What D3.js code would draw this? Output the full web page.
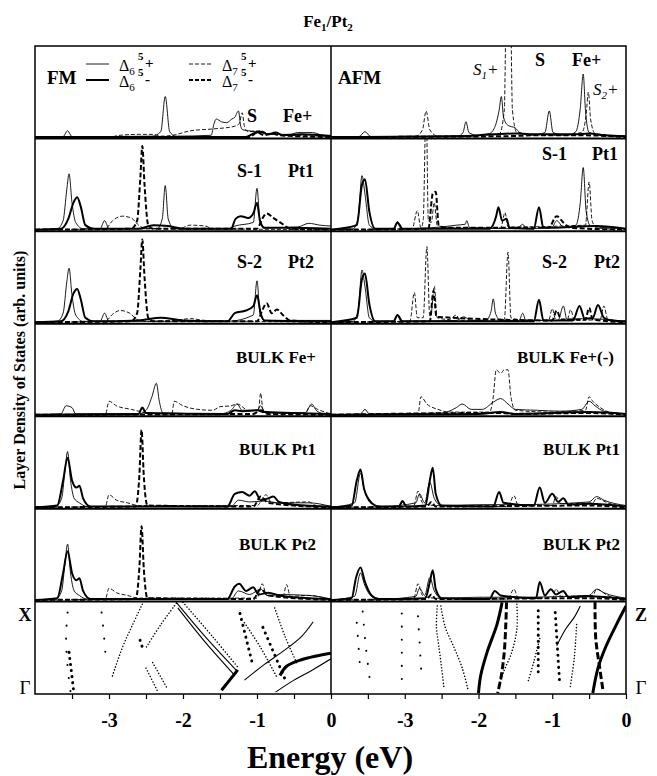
<!DOCTYPE html>
<html>
<head>
<meta charset="utf-8">
<script src="https://cdn.jsdelivr.net/npm/d3@7"></script>
<style>
  body { margin: 0; background: #fff; }
  text { font-family: "Liberation Serif", "Times New Roman", serif; font-weight: bold; fill: #000; }
</style>
</head>
<body>
<svg id="chart" width="657" height="776"></svg>
<script>
// energy axis
const energyDomain = [-4, 0];
const tickValues = [-3.5, -3, -2.5, -2, -1.5, -1, -0.5, 0];
const labelTicks = [-3, -2, -1, 0];

// DOS curves, [energy (eV), density (arb.)]
// 6p = Delta6 +, 6m = Delta6 -, 7p = Delta7 +, 7m = Delta7 -
const fmFeS_6p = [[-4,0],[-3.62,0.005],[-3.56,0.07],[-3.5,0.005],[-2.42,0.01],[-2.3,0.06],[-2.24,0.45],[-2.18,0.06],[-2.1,0.01],[-1.62,0.02],[-1.58,0.15],[-1.55,0.2],[-1.48,0.17],[-1.41,0.16],[-1.34,0.2],[-1.3,0.22],[-1.25,0.29],[-1.22,0.12],[-1.19,0.08],[-1.0,0.06],[-0.8,0.03],[-0.55,0.03],[-0.45,0.05],[-0.25,0.05],[-0.1,0.02],[0,0.02]];
const fmFeS_6m = [[-4,0],[-1.15,0],[-1.05,0.04],[-0.95,0.06],[-0.85,0.03],[-0.75,0.05],[-0.65,0.02],[-0.4,0.03],[0,0.01]];
const fmFeS_7p = [[-4,0],[-3.0,0],[-2.85,0.02],[-2.6,0.03],[-2.4,0.03],[-2.3,0.01],[-2.14,0.02],[-1.9,0.07],[-1.6,0.09],[-1.3,0.12],[-1.24,0.15],[-1.2,0.27],[-1.17,0.12],[-1.12,0.06],[-0.95,0.07],[-0.85,0.04],[-0.6,0.02],[0,0.01]];
const fmFeS_7m = [[-4,0],[-1.1,0],[-1.0,0.05],[-0.9,0.02],[-0.8,0.04],[-0.7,0.02],[0,0]];

const afmFeS_6p = [[-4,0],[-3.62,0.005],[-3.54,0.06],[-3.46,0.005],[-2.28,0.01],[-2.21,0.05],[-2.17,0.17],[-2.13,0.05],[-2.02,0.02],[-1.85,0.04],[-1.77,0.13],[-1.72,0.3],[-1.69,0.45],[-1.66,0.22],[-1.6,0.13],[-1.5,0.1],[-1.44,0.05],[-1.3,0.02],[-1.1,0.05],[-1.04,0.29],[-0.99,0.05],[-0.8,0.02],[-0.68,0.06],[-0.62,0.32],[-0.58,0.7],[-0.55,0.3],[-0.5,0.05],[-0.3,0.02],[0,0.01]];
const afmFeS_6m = [[-4,0],[-2.3,0.01],[-1.8,0.03],[-1.5,0.04],[-1.2,0.03],[-0.7,0.03],[-0.5,0.04],[-0.3,0.02],[0,0.01]];
const afmFeS_7p = [[-4,0],[-2.85,0.01],[-2.76,0.08],[-2.71,0.29],[-2.66,0.08],[-2.55,0.01],[-1.72,0.03],[-1.65,0.3],[-1.62,1.6],[-1.57,1.6],[-1.54,0.3],[-1.48,0.05],[-1.0,0.02],[-0.6,0.05],[-0.54,0.25],[-0.51,0.5],[-0.48,0.2],[-0.42,0.04],[0,0.01]];
const afmFeS_7m = [[-4,0],[-1.6,0.01],[-1.2,0.02],[-0.6,0.02],[0,0]];

const fmPt1S_6p = [[-4,0],[-3.7,0.01],[-3.62,0.1],[-3.57,0.45],[-3.54,0.62],[-3.5,0.3],[-3.45,0.08],[-3.35,0.01],[-3.12,0.01],[-3.06,0.1],[-3.0,0.01],[-2.35,0.01],[-2.28,0.12],[-2.24,0.49],[-2.2,0.12],[-2.12,0.01],[-1.4,0.01],[-1.3,0.04],[-1.05,0.08],[-1.0,0.46],[-0.96,0.1],[-0.9,0.02],[-0.45,0.03],[-0.3,0.07],[-0.15,0.05],[0,0.04]];
const fmPt1S_6m = [[-4,0],[-3.65,0.01],[-3.55,0.12],[-3.48,0.3],[-3.43,0.36],[-3.38,0.25],[-3.32,0.05],[-3.2,0.01],[-2.6,0.01],[-2.4,0.05],[-2.2,0.04],[-2.0,0.01],[-1.35,0.01],[-1.29,0.12],[-1.22,0.15],[-1.12,0.13],[-1.05,0.18],[-1.0,0.3],[-0.96,0.1],[-0.9,0.02],[-0.6,0.02],[0,0.01]];
const fmPt1S_7p = [[-4,0],[-3.05,0.01],[-2.95,0.1],[-2.82,0.15],[-2.7,0.13],[-2.6,0.05],[-2.5,0.01],[-2.05,0.01],[-1.9,0.05],[-1.7,0.04],[-1.6,0.01],[0,0]];
const fmPt1S_7m = [[-4,0],[-2.7,0.01],[-2.62,0.1],[-2.575,0.6],[-2.55,0.93],[-2.52,0.5],[-2.47,0.05],[-2.4,0.01],[-1.0,0.01],[-0.93,0.12],[-0.87,0.18],[-0.78,0.13],[-0.65,0.06],[-0.55,0.01],[0,0]];

const afmPt1S_6p = [[-4,0],[-3.7,0.01],[-3.63,0.15],[-3.58,0.6],[-3.54,0.4],[-3.48,0.05],[-3.4,0.01],[-3.15,0.01],[-3.1,0.09],[-3.05,0.01],[-2.5,0.03],[-2.3,0.05],[-2.18,0.06],[-2.16,0.1],[-2.12,0.02],[-1.48,0.01],[-1.4,0.06],[-1.35,0.01],[-1.0,0.03],[-0.94,0.1],[-0.85,0.03],[-0.68,0.05],[-0.62,0.3],[-0.58,0.69],[-0.54,0.2],[-0.48,0.04],[0,0.01]];
const afmPt1S_6m = [[-4,0],[-3.65,0.05],[-3.58,0.5],[-3.54,0.56],[-3.48,0.2],[-3.4,0.01],[-3.15,0.01],[-3.1,0.08],[-3.03,0.01],[-1.85,0.01],[-1.76,0.15],[-1.73,0.25],[-1.68,0.1],[-1.62,0.12],[-1.58,0.02],[-1.25,0.01],[-1.18,0.25],[-1.12,0.02],[-0.4,0.04],[0,0.01]];
const afmPt1S_7p = [[-4,0],[-2.9,0.01],[-2.83,0.21],[-2.78,0.02],[-2.75,0.1],[-2.71,1.4],[-2.68,0.1],[-2.64,0.08],[-2.6,0.3],[-2.56,0.05],[-2.4,0.02],[-1.7,0.02],[-1.64,0.19],[-1.6,0.03],[-0.55,0.05],[-0.5,0.53],[-0.46,0.1],[-0.4,0.02],[0,0]];
const afmPt1S_7m = [[-4,0],[-2.68,0.01],[-2.62,0.4],[-2.58,0.42],[-2.54,0.05],[-2.45,0.02],[-1.05,0.02],[-0.94,0.15],[-0.85,0.08],[-0.75,0.02],[0,0]];

const fmPt2S_6p = [[-4,0],[-3.7,0.01],[-3.62,0.1],[-3.57,0.45],[-3.54,0.6],[-3.5,0.3],[-3.45,0.08],[-3.35,0.01],[-3.12,0.01],[-3.06,0.1],[-3.0,0.01],[-1.4,0.01],[-1.05,0.08],[-1.0,0.46],[-0.96,0.1],[-0.9,0.02],[-0.4,0.02],[0,0.02]];
const fmPt2S_6m = [[-4,0],[-3.65,0.01],[-3.55,0.12],[-3.48,0.32],[-3.43,0.37],[-3.38,0.25],[-3.32,0.05],[-3.2,0.01],[-2.6,0.02],[-2.3,0.05],[-2.0,0.02],[-1.4,0.01],[-1.3,0.1],[-1.15,0.13],[-1.05,0.18],[-1.0,0.3],[-0.95,0.1],[-0.9,0.02],[0,0.01]];
const fmPt2S_7p = [[-4,0],[-3.05,0.01],[-2.95,0.09],[-2.85,0.13],[-2.72,0.1],[-2.62,0.03],[-2.5,0.01],[-2.1,0.02],[-1.9,0.04],[-1.7,0.02],[0,0]];
const fmPt2S_7m = [[-4,0],[-2.7,0.01],[-2.62,0.1],[-2.575,0.6],[-2.55,0.92],[-2.52,0.5],[-2.47,0.05],[-2.4,0.01],[-1.0,0.01],[-0.93,0.13],[-0.87,0.21],[-0.8,0.1],[-0.73,0.14],[-0.65,0.08],[-0.55,0.02],[0,0]];

const afmPt2S_6p = [[-4,0],[-3.7,0.01],[-3.63,0.15],[-3.58,0.58],[-3.54,0.4],[-3.48,0.05],[-3.4,0.01],[-3.15,0.01],[-3.1,0.08],[-3.05,0.01],[-2.3,0.02],[-2.2,0.06],[-2.1,0.02],[-1.9,0.02],[-1.83,0.12],[-1.8,0.26],[-1.77,0.1],[-1.7,0.02],[-1.45,0.02],[-1.4,0.1],[-1.36,0.02],[-0.92,0.02],[-0.85,0.18],[-0.8,0.03],[-0.55,0.04],[0,0.01]];
const afmPt2S_6m = [[-4,0],[-3.65,0.05],[-3.58,0.48],[-3.54,0.54],[-3.48,0.2],[-3.4,0.01],[-3.15,0.01],[-3.1,0.08],[-3.03,0.01],[-1.25,0.01],[-1.18,0.25],[-1.12,0.02],[-0.72,0.02],[-0.63,0.18],[-0.56,0.04],[-0.45,0.05],[-0.38,0.19],[-0.3,0.05],[-0.2,0.02],[0,0.01]];
const afmPt2S_7p = [[-4,0],[-2.93,0.01],[-2.87,0.33],[-2.83,0.05],[-2.75,0.05],[-2.7,0.84],[-2.66,0.06],[-2.64,0.1],[-2.6,0.4],[-2.56,0.05],[-2.4,0.03],[-2.3,0.08],[-2.25,0.02],[-1.65,0.03],[-1.6,0.78],[-1.56,0.05],[-1.45,0.03],[-1.05,0.02],[-1.0,0.15],[-0.95,0.02],[-0.8,0.02],[-0.75,0.14],[-0.7,0.02],[-0.35,0.03],[-0.3,0.18],[-0.25,0.04],[0,0]];
const afmPt2S_7m = [[-4,0],[-2.66,0.01],[-2.61,0.35],[-2.57,0.06],[-1.0,0.02],[-0.94,0.13],[-0.88,0.03],[-0.55,0.03],[-0.5,0.16],[-0.45,0.03],[0,0]];

const fmFeB_6p = [[-4,0],[-3.65,0.01],[-3.58,0.1],[-3.5,0.08],[-3.45,0.01],[-2.6,0.01],[-2.5,0.05],[-2.42,0.2],[-2.36,0.35],[-2.32,0.15],[-2.27,0.02],[-1.5,0.01],[-1.35,0.05],[-1.27,0.12],[-1.2,0.05],[-1.0,0.05],[-0.95,0.1],[-0.9,0.03],[-0.35,0.02],[-0.26,0.12],[-0.2,0.05],[-0.1,0.01],[0,0]];
const fmFeB_6m = [[-4,0],[-2.6,0.01],[-2.55,0.08],[-2.5,0.02],[-1.4,0.01],[-1.3,0.05],[-1.2,0.04],[-1.0,0.05],[-0.9,0.03],[0,0.01]];
const fmFeB_7p = [[-4,0],[-3.05,0],[-3.0,0.15],[-2.9,0.1],[-2.7,0.06],[-2.55,0.03],[-2.45,0.01],[-2.15,0.01],[-2.12,0.15],[-2.0,0.1],[-1.8,0.06],[-1.6,0.05],[-1.5,0.09],[-1.35,0.1],[-1.27,0.12],[-1.1,0.04],[-0.98,0.06],[-0.95,0.24],[-0.92,0.06],[-0.8,0.02],[-0.35,0.02],[-0.28,0.1],[-0.18,0.06],[0,0.01]];
const fmFeB_7m = [[-4,0],[-1.05,0.01],[-0.95,0.05],[-0.85,0.01],[0,0]];

const afmFeB_6p = [[-4,0],[-3.6,0.01],[-3.54,0.06],[-3.48,0.01],[-2.5,0.02],[-2.3,0.08],[-2.22,0.12],[-2.1,0.06],[-1.95,0.06],[-1.8,0.14],[-1.7,0.18],[-1.6,0.12],[-1.5,0.06],[-1.2,0.05],[-0.9,0.04],[-0.6,0.06],[-0.5,0.15],[-0.42,0.1],[-0.3,0.04],[0,0.01]];
const afmFeB_6m = [[-4,0],[-2.0,0.01],[-1.7,0.03],[-1.5,0.01],[-0.5,0.03],[0,0.01]];
const afmFeB_7p = [[-4,0],[-2.82,0.01],[-2.78,0.2],[-2.7,0.12],[-2.55,0.06],[-2.4,0.03],[-1.85,0.03],[-1.8,0.2],[-1.76,0.5],[-1.7,0.46],[-1.65,0.5],[-1.6,0.5],[-1.56,0.2],[-1.5,0.05],[-1.0,0.03],[-0.55,0.05],[-0.5,0.2],[-0.45,0.15],[-0.35,0.08],[-0.2,0.02],[0,0]];
const afmFeB_7m = [[-4,0],[-1.7,0.02],[-1.5,0.01],[-0.5,0.02],[0,0]];

const fmPt1B_6p = [[-4,0],[-3.72,0.01],[-3.64,0.1],[-3.59,0.45],[-3.56,0.62],[-3.52,0.3],[-3.47,0.1],[-3.4,0.05],[-3.3,0.01],[-1.35,0.01],[-1.25,0.08],[-1.1,0.06],[-0.9,0.07],[-0.7,0.05],[-0.3,0.05],[0,0.01]];
const fmPt1B_6m = [[-4,0],[-3.7,0.02],[-3.62,0.3],[-3.56,0.55],[-3.5,0.3],[-3.44,0.22],[-3.4,0.24],[-3.35,0.1],[-3.25,0.01],[-1.4,0.01],[-1.3,0.15],[-1.2,0.17],[-1.1,0.13],[-1.03,0.18],[-0.95,0.08],[-0.85,0.1],[-0.78,0.12],[-0.7,0.06],[-0.5,0.03],[0,0.01]];
const fmPt1B_7p = [[-4,0],[-3.05,0.01],[-3.0,0.14],[-2.9,0.08],[-2.75,0.05],[-2.6,0.02],[-1.0,0.02],[-0.88,0.14],[-0.8,0.05],[-0.3,0.06],[-0.2,0.02],[0,0]];
const fmPt1B_7m = [[-4,0],[-2.64,0.01],[-2.59,0.35],[-2.56,0.86],[-2.53,0.35],[-2.48,0.02],[-1.05,0.01],[-0.95,0.12],[-0.85,0.05],[0,0]];

const afmPt1B_6p = [[-4,0],[-3.68,0.05],[-3.6,0.38],[-3.55,0.2],[-3.45,0.04],[-3.3,0.01],[-2.85,0.05],[-2.8,0.15],[-2.73,0.05],[-2.66,0.28],[-2.6,0.1],[-2.5,0.02],[-2.0,0.03],[-1.5,0.03],[-0.5,0.06],[-0.4,0.12],[-0.3,0.08],[0,0.02]];
const afmPt1B_6m = [[-4,0],[-3.72,0.02],[-3.65,0.3],[-3.6,0.42],[-3.55,0.2],[-3.45,0.05],[-3.35,0.01],[-3.08,0.01],[-3.03,0.07],[-2.98,0.01],[-2.72,0.02],[-2.66,0.3],[-2.62,0.44],[-2.58,0.15],[-2.5,0.02],[-1.8,0.01],[-1.72,0.17],[-1.66,0.05],[-1.25,0.02],[-1.17,0.22],[-1.1,0.05],[-1.0,0.15],[-0.92,0.06],[-0.85,0.1],[-0.78,0.03],[-0.5,0.04],[0,0.01]];
const afmPt1B_7p = [[-4,0],[-2.88,0.01],[-2.82,0.18],[-2.76,0.05],[-2.6,0.02],[-1.6,0.01],[-1.52,0.13],[-1.46,0.02],[-1.0,0.02],[-0.95,0.12],[-0.88,0.04],[-0.45,0.05],[-0.4,0.1],[-0.25,0.05],[0,0]];
const afmPt1B_7m = [[-4,0],[-2.7,0.01],[-2.64,0.06],[-2.58,0.01],[-0.5,0.02],[0,0]];

const fmPt2B_6p = [[-4,0],[-3.72,0.01],[-3.64,0.1],[-3.59,0.45],[-3.56,0.62],[-3.52,0.3],[-3.47,0.1],[-3.4,0.05],[-3.3,0.01],[-1.35,0.01],[-1.25,0.1],[-1.1,0.06],[-0.95,0.12],[-0.85,0.05],[-0.7,0.06],[-0.3,0.05],[0,0.01]];
const fmPt2B_6m = [[-4,0],[-3.7,0.02],[-3.62,0.3],[-3.56,0.54],[-3.5,0.3],[-3.44,0.22],[-3.4,0.24],[-3.35,0.1],[-3.25,0.01],[-1.4,0.01],[-1.3,0.15],[-1.24,0.18],[-1.15,0.1],[-1.05,0.14],[-0.98,0.06],[-0.85,0.08],[-0.7,0.05],[-0.5,0.03],[0,0.01]];
const fmPt2B_7p = [[-4,0],[-3.05,0.01],[-3.0,0.13],[-2.9,0.08],[-2.75,0.05],[-2.6,0.02],[-1.0,0.02],[-0.93,0.18],[-0.87,0.05],[-0.65,0.04],[-0.6,0.17],[-0.55,0.04],[-0.3,0.05],[0,0]];
const fmPt2B_7m = [[-4,0],[-2.64,0.01],[-2.59,0.35],[-2.56,0.82],[-2.53,0.35],[-2.48,0.02],[-1.05,0.01],[-0.95,0.12],[-0.85,0.05],[0,0]];

const afmPt2B_6p = [[-4,0],[-3.68,0.04],[-3.6,0.3],[-3.55,0.18],[-3.45,0.04],[-3.3,0.01],[-2.85,0.04],[-2.8,0.13],[-2.73,0.05],[-2.66,0.25],[-2.6,0.1],[-2.5,0.02],[-2.0,0.03],[-1.5,0.03],[-0.5,0.05],[-0.4,0.12],[-0.3,0.08],[0,0.02]];
const afmPt2B_6m = [[-4,0],[-3.72,0.02],[-3.66,0.25],[-3.6,0.36],[-3.54,0.2],[-3.45,0.05],[-3.35,0.01],[-2.72,0.02],[-2.66,0.2],[-2.62,0.33],[-2.58,0.12],[-2.5,0.02],[-1.85,0.01],[-1.78,0.1],[-1.7,0.05],[-1.22,0.02],[-1.17,0.2],[-1.1,0.05],[-1.02,0.12],[-0.95,0.06],[-0.85,0.1],[-0.78,0.03],[-0.5,0.04],[0,0.01]];
const afmPt2B_7p = [[-4,0],[-2.88,0.01],[-2.82,0.18],[-2.76,0.05],[-2.6,0.02],[-1.6,0.01],[-1.52,0.12],[-1.46,0.02],[-1.0,0.02],[-0.95,0.12],[-0.88,0.04],[-0.45,0.05],[-0.4,0.12],[-0.25,0.05],[0,0]];
const afmPt2B_7m = [[-4,0],[-2.7,0.01],[-2.64,0.06],[-2.58,0.01],[-0.5,0.02],[0,0]];

// band structure, [energy (eV), k] with k = 0 at Gamma and 1 at X (or Z)
const fmBandDots = [
  [[-2.55,0.97],[-2.68,0.75],[-2.82,0.5],[-2.96,0.18]],
  [[-2.09,0.98],[-2.3,0.75],[-2.5,0.5]],
  [[-2.5,0.28],[-2.35,0.04]],
  [[-2.41,0.34],[-2.22,0.07]],
  [[-1.17,0.77],[-0.95,0.5],[-0.73,0.18]],
  [[-0.76,0.93],[-0.62,0.62],[-0.46,0.33]],
  [[-2.0,0.99],[-1.6,0.62],[-1.25,0.28]]
];
const fmBandSparse = [
  [[-3.56,0.88],[-3.58,0.62],[-3.56,0.3],[-3.52,0.03]],
  [[-3.1,0.88],[-3.07,0.65],[-3.05,0.45]]
];
const fmBandTri = [
  [[-3.54,0.45],[-3.48,0.05]],
  [[-2.58,0.58],[-2.54,0.48]],
  [[-1.23,0.87],[-1.06,0.32]],
  [[-0.92,0.72],[-0.6,0.12]]
];
const fmBandLine = [
  [[-2.09,0.99],[-1.7,0.62],[-1.26,0.24]],
  [[-2.07,0.93],[-1.7,0.56],[-1.3,0.2]],
  [[-1.17,0.15],[-0.9,0.32],[-0.65,0.46],[-0.4,0.62],[-0.24,0.78]],
  [[-0.75,0.02],[-0.5,0.15],[-0.25,0.26],[0,0.38]]
];
const fmBandThick = [
  [[-1.26,0.26],[-1.37,0.15],[-1.48,0.04]],
  [[-0.69,0.2],[-0.6,0.3],[-0.4,0.37],[-0.2,0.41],[0,0.44]]
];
const fmBandThickDash = [];

const afmBandDots = [
  [[-2.56,0.95],[-2.57,0.72],[-2.54,0.53],[-2.5,0.28],[-2.47,0.08]],
  [[-2.51,0.95],[-2.45,0.72],[-2.33,0.5],[-2.22,0.28],[-2.14,0.04]],
  [[-1.48,0.97],[-1.48,0.7],[-1.55,0.45],[-1.66,0.24],[-1.73,0.08]],
  [[-1.17,0.6],[-1.25,0.35],[-1.33,0.13]],
  [[-0.67,0.75],[-0.7,0.4],[-0.76,0.06]]
];
const afmBandSparse = [
  [[-3.65,0.77],[-3.61,0.33]],
  [[-3.57,0.89],[-3.53,0.53],[-3.47,0.13]],
  [[-3.04,0.87],[-3.04,0.1]],
  [[-2.82,0.84],[-2.77,0.17]]
];
const afmBandTri = [
  [[-1.19,0.9],[-1.19,0.23]],
  [[-0.96,0.88],[-0.9,0.12]]
];
const afmBandLine = [
  [[-0.94,0.52],[-0.82,0.7],[-0.7,0.83],[-0.62,0.95]]
];
const afmBandThick = [
  [[-1.68,0.99],[-1.75,0.75],[-1.88,0.46],[-1.97,0.2],[-2.0,0.01]],
  [[0,0.95],[-0.13,0.75],[-0.28,0.5],[-0.38,0.28],[-0.45,0.01]]
];
const afmBandThickDash = [
  [[-1.62,0.99],[-1.63,0.75],[-1.65,0.46],[-1.69,0.2],[-1.74,0.01]],
  [[-0.42,0.99],[-0.41,0.6],[-0.36,0.3],[-0.31,0.03]]
];

// ---------- drawing ----------
const svg = d3.select("#chart");
const xLeft = 35, xMid = 331, xRight = 626;
const plotTop = 46, plotBottom = 694;

const rowY = d3.scaleBand().domain(d3.range(7)).range([plotTop, plotBottom]);
const xs = [
  d3.scaleLinear().domain(energyDomain).range([xLeft, xMid]),
  d3.scaleLinear().domain(energyDomain).range([xMid, xRight])
];

const dosRows = [
  { fm: [fmFeS_6p, fmFeS_6m, fmFeS_7p, fmFeS_7m], afm: [afmFeS_6p, afmFeS_6m, afmFeS_7p, afmFeS_7m] },
  { fm: [fmPt1S_6p, fmPt1S_6m, fmPt1S_7p, fmPt1S_7m], afm: [afmPt1S_6p, afmPt1S_6m, afmPt1S_7p, afmPt1S_7m] },
  { fm: [fmPt2S_6p, fmPt2S_6m, fmPt2S_7p, fmPt2S_7m], afm: [afmPt2S_6p, afmPt2S_6m, afmPt2S_7p, afmPt2S_7m] },
  { fm: [fmFeB_6p, fmFeB_6m, fmFeB_7p, fmFeB_7m], afm: [afmFeB_6p, afmFeB_6m, afmFeB_7p, afmFeB_7m] },
  { fm: [fmPt1B_6p, fmPt1B_6m, fmPt1B_7p, fmPt1B_7m], afm: [afmPt1B_6p, afmPt1B_6m, afmPt1B_7p, afmPt1B_7m] },
  { fm: [fmPt2B_6p, fmPt2B_6m, fmPt2B_7p, fmPt2B_7m], afm: [afmPt2B_6p, afmPt2B_6m, afmPt2B_7p, afmPt2B_7m] }
];

// thin solid, thick solid, thin dashed, thick dashed
const seriesStyle = [
  { w: 0.9, dash: null },
  { w: 2.0, dash: null },
  { w: 0.9, dash: "4,2" },
  { w: 2.0, dash: "5,2.5" }
];

const defs = svg.append("defs");

dosRows.forEach((row, r) => {
  const y0 = rowY(r), y1 = y0 + rowY.bandwidth();
  const y = d3.scaleLinear().domain([0, 1]).range([y1 - 1.5, y1 - 91.5]);
  [row.fm, row.afm].forEach((curves, c) => {
    const x = xs[c];
    const id = `clip${r}${c}`;
    defs.append("clipPath").attr("id", id).append("rect")
      .attr("x", x.range()[0]).attr("y", y0)
      .attr("width", x.range()[1] - x.range()[0]).attr("height", y1 - y0);
    const g = svg.append("g").attr("clip-path", `url(#${id})`);
    const line = d3.line().x(d => x(d[0])).y(d => y(d[1])).curve(d3.curveMonotoneX);
    curves.forEach((data, i) => {
      g.append("path").attr("d", line(data))
        .attr("fill", "none").attr("stroke", "#000")
        .attr("stroke-width", seriesStyle[i].w)
        .attr("stroke-dasharray", seriesStyle[i].dash);
    });
  });
});

// band panel
const bandY0 = rowY(6), bandY1 = bandY0 + rowY.bandwidth();
const kScale = d3.scaleLinear().domain([0, 1]).range([bandY1, bandY0]);
const bandSets = [
  [fmBandDots, fmBandSparse, fmBandTri, fmBandLine, fmBandThick, fmBandThickDash],
  [afmBandDots, afmBandSparse, afmBandTri, afmBandLine, afmBandThick, afmBandThickDash]
];
const bandStyle = [
  { w: 1.5, dash: "0.1,3", cap: "round" },
  { w: 2.0, dash: "0.1,13", cap: "round" },
  { w: 3.0, dash: "0.1,6", cap: "round" },
  { w: 1.1, dash: null, cap: "butt" },
  { w: 3.0, dash: null, cap: "butt" },
  { w: 3.0, dash: "7,3", cap: "butt" }
];
bandSets.forEach((sets, c) => {
  const x = xs[c];
  const id = `bclip${c}`;
  defs.append("clipPath").attr("id", id).append("rect")
    .attr("x", x.range()[0]).attr("y", bandY0)
    .attr("width", x.range()[1] - x.range()[0]).attr("height", bandY1 - bandY0);
  const g = svg.append("g").attr("clip-path", `url(#${id})`);
  const line = d3.line().x(d => x(d[0])).y(d => kScale(d[1])).curve(d3.curveCatmullRom);
  sets.forEach((bands, s) => {
    g.selectAll(null).data(bands).join("path")
      .attr("d", line).attr("fill", "none").attr("stroke", "#000")
      .attr("stroke-width", bandStyle[s].w)
      .attr("stroke-dasharray", bandStyle[s].dash)
      .attr("stroke-linecap", bandStyle[s].cap);
  });
});

// frame
svg.append("rect").attr("x", xLeft).attr("y", plotTop)
  .attr("width", xRight - xLeft).attr("height", plotBottom - plotTop)
  .attr("fill", "none").attr("stroke", "#000").attr("stroke-width", 1.5);
svg.append("line").attr("x1", xMid).attr("x2", xMid).attr("y1", plotTop).attr("y2", plotBottom)
  .attr("stroke", "#000").attr("stroke-width", 1.5);
svg.selectAll(null).data(d3.range(1, 7)).join("line")
  .attr("x1", xLeft).attr("x2", xRight)
  .attr("y1", d => rowY(d)).attr("y2", d => rowY(d))
  .attr("stroke", "#000").attr("stroke-width", 2);

// energy axes
xs.forEach(x => {
  const ax = svg.append("g").attr("transform", `translate(0,${plotBottom})`)
    .call(d3.axisBottom(x).tickValues(tickValues).tickSize(5).tickSizeOuter(0)
      .tickFormat(d => labelTicks.includes(d) ? String(d) : ""));
  ax.select(".domain").remove();
  ax.selectAll(".tick line").attr("stroke-width", 1.2);
  ax.selectAll(".tick text").attr("dy", null).attr("y", 33)
    .style("font-size", "20px").style("font-family", "Liberation Serif").style("font-weight", "bold");
});

// texts
function txt(x, y, s, size, anchor) {
  return svg.append("text").attr("x", x).attr("y", y)
    .attr("text-anchor", anchor || "start")
    .style("font-size", size + "px")
    .text(s);
}

const title = svg.append("text").attr("x", 328).attr("y", 27).attr("text-anchor", "middle").style("font-size", "17px");
title.append("tspan").text("Fe");
title.append("tspan").attr("dy", 4).style("font-size", "11px").text("1");
title.append("tspan").attr("dy", -4).text("/Pt");
title.append("tspan").attr("dy", 4).style("font-size", "11px").text("2");

svg.append("text").attr("transform", "translate(25,370) rotate(-90)")
  .attr("text-anchor", "middle").style("font-size", "16px")
  .text("Layer Density of States (arb. units)");

txt(330, 768, "Energy (eV)", 32, "middle");

// row labels
txt(47, 84, "FM", 19);
txt(338, 84, "AFM", 19);
txt(247, 122, "S", 18);
txt(283, 122, "Fe+", 18);
txt(535, 66, "S", 18);
txt(572, 66, "Fe+", 18);

const s1 = svg.append("text").attr("x", 473).attr("y", 75).style("font-size", "17px").style("font-style", "italic").style("font-weight", "normal");
s1.append("tspan").text("S");
s1.append("tspan").attr("dy", 4).style("font-size", "11px").text("1");
s1.append("tspan").attr("dy", -4).text("+");
const s2 = svg.append("text").attr("x", 593).attr("y", 95).style("font-size", "17px").style("font-style", "italic").style("font-weight", "normal");
s2.append("tspan").text("S");
s2.append("tspan").attr("dy", 4).style("font-size", "11px").text("2");
s2.append("tspan").attr("dy", -4).text("+");

txt(237, 177, "S-1", 18);
txt(288, 177, "Pt1", 18);
txt(542, 160, "S-1", 18);
txt(592, 160, "Pt1", 18);
txt(237, 268, "S-2", 18);
txt(288, 268, "Pt2", 18);
txt(542, 268, "S-2", 18);
txt(594, 268, "Pt2", 18);
txt(316, 363, "BULK Fe+", 17, "end");
txt(614, 363, "BULK Fe+(-)", 17, "end");
txt(316, 455, "BULK Pt1", 17, "end");
txt(620, 455, "BULK Pt1", 17, "end");
txt(316, 550, "BULK Pt2", 17, "end");
txt(620, 550, "BULK Pt2", 17, "end");

txt(25, 621, "X", 18, "middle");
txt(25, 694, "Γ", 19, "middle").style("font-weight", "normal");
txt(641, 621, "Z", 18, "middle");
txt(641, 694, "Γ", 19, "middle").style("font-weight", "normal");

// legend
const legendRows = [
  { x: 86, y: 64, w: 0.9, dash: null, n: "6", sign: "+" },
  { x: 86, y: 80, w: 2.0, dash: null, n: "6", sign: "-" },
  { x: 189, y: 64, w: 0.9, dash: "4,2", n: "7", sign: "+" },
  { x: 189, y: 80, w: 2.0, dash: "4,2", n: "7", sign: "-" }
];
legendRows.forEach(d => {
  svg.append("line").attr("x1", d.x).attr("x2", d.x + 23).attr("y1", d.y).attr("y2", d.y)
    .attr("stroke", "#000").attr("stroke-width", d.w).attr("stroke-dasharray", d.dash);
  const t = svg.append("text").attr("x", d.x + 33).attr("y", d.y + 7).style("font-size", "16px").style("font-weight", "normal");
  t.append("tspan").text("Δ");
  t.append("tspan").attr("dy", 4).style("font-size", "11px").text(d.n);
  svg.append("text").attr("x", d.x + 52).attr("y", d.y - 4).style("font-size", "11px").text("5");
  svg.append("text").attr("x", d.x + 59).attr("y", d.y + 4).style("font-size", "15px").text(d.sign);
});
</script>
</body>
</html>
